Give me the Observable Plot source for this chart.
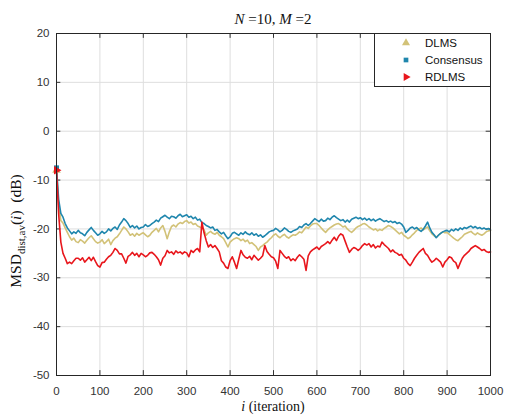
<!DOCTYPE html>
<html>
<head>
<meta charset="utf-8">
<script src="https://cdn.jsdelivr.net/npm/d3@7"></script>
<script src="https://cdn.jsdelivr.net/npm/@observablehq/plot@0.6"></script>
<style>
  html, body { margin: 0; padding: 0; background: #fff; }
  #chart { width: 507px; height: 416px; }
</style>
</head>
<body>
<div id="chart"></div>
<script>
// iterations sampled every 5 steps
const iterations = d3.range(0, 1001, 5);
const xTicks = [0, 100, 200, 300, 400, 500, 600, 700, 800, 900, 1000];
const yTicks = [-50, -40, -30, -20, -10, 0, 10, 20];
const seriesNames = ["DLMS", "Consensus", "RDLMS"];
const seriesColors = ["#d2c278", "#1f86ad", "#e8161c"];

const dlms = [
  -8.0, -15.0, -18.3, -18.8, -19.8, -20.7, -21.6, -22.3, -21.9, -22.6,
  -22.8, -22.2, -22.5, -22.9, -22.3, -21.8, -21.4, -22.0, -22.6, -22.9,
  -22.7, -22.2, -23.0, -22.6, -22.1, -23.2, -22.4, -21.9, -21.6, -21.0,
  -20.3, -19.6, -20.0, -20.6, -21.3, -21.0, -21.5, -20.9, -21.3, -21.0,
  -20.8, -21.2, -21.6, -21.3, -20.7, -20.3, -19.9, -20.6, -19.8, -19.3,
  -20.5, -22.0, -20.6, -19.5, -19.2, -19.6, -19.0, -18.7, -18.9, -18.5,
  -18.3, -18.8, -18.6, -19.1, -18.9, -19.4, -19.6, -19.8, -20.2, -21.3,
  -20.8, -20.5, -20.9, -21.1, -20.7, -21.3, -21.6, -22.0, -22.8, -23.7,
  -22.7, -22.3, -22.0, -21.8, -22.0, -22.4, -22.1, -22.6, -22.3, -23.0,
  -22.8, -23.2, -23.6, -24.4, -23.7, -23.4, -23.0, -22.7, -22.2, -21.8,
  -21.3, -21.0, -21.5, -21.8, -21.4, -21.1, -21.6, -21.9, -21.5, -21.2,
  -21.3, -21.0, -20.6, -20.8, -20.2, -19.6, -19.9, -19.4, -19.0, -18.9,
  -18.9, -19.3, -19.8, -20.3, -20.7, -20.2, -19.8, -19.5, -19.2, -19.0,
  -18.9, -19.2, -19.6, -19.4, -20.0, -20.4, -20.7, -20.3, -19.8, -19.5,
  -19.3, -19.0, -18.9, -19.2, -19.6, -19.9, -20.2, -20.0, -20.4, -20.1,
  -20.3, -19.9, -19.6, -19.3, -19.5, -19.8, -20.2, -20.6, -21.0, -20.7,
  -21.3, -21.6, -22.0, -21.7, -21.2, -20.8, -20.3, -20.0, -19.8, -20.2,
  -19.9, -19.6, -20.4, -21.0, -21.4, -21.7, -21.3, -20.9, -20.6, -20.8,
  -20.7, -21.1, -21.5, -21.9, -22.2, -22.4, -22.0, -21.6, -21.1, -20.9,
  -20.7, -20.5, -20.9, -21.2, -20.8, -21.1, -21.3, -21.0, -20.6, -20.4,
  -20.3
];

const consensus = [
  -7.5, -14.0, -16.8, -17.6, -18.9, -19.8, -20.4, -21.0, -20.6, -20.9,
  -20.3, -20.8, -21.0, -21.4, -20.7, -20.2, -19.7, -20.3, -20.8, -21.3,
  -21.0, -20.5, -20.9, -20.6, -20.0, -20.4, -19.9, -19.6, -20.1, -19.2,
  -18.6, -17.9, -18.3, -18.9, -19.7, -19.3, -19.8, -19.4, -20.0, -19.7,
  -19.6, -19.1, -19.5, -19.3, -18.9, -18.6, -18.2, -18.5, -17.8, -17.5,
  -17.2, -17.6, -17.9, -17.4, -17.5, -17.8, -17.3, -17.0, -17.5, -17.3,
  -17.1, -17.6, -17.4, -17.9, -17.6, -18.2, -18.0, -18.7, -18.9, -19.3,
  -19.5, -19.8, -19.6, -20.3, -20.1, -20.6, -21.0, -20.7, -21.4, -22.0,
  -21.6, -20.9, -20.7, -21.0, -21.3, -20.8, -21.1, -20.6, -21.0, -21.2,
  -20.8, -21.3, -21.0, -21.5, -21.2, -21.7, -21.4, -21.0, -20.6, -20.4,
  -20.3, -19.9, -20.2, -20.6, -20.3, -19.8, -20.1, -20.5, -20.7, -20.4,
  -20.2, -20.0, -19.5, -19.7, -19.2, -18.9, -19.3, -18.9, -18.4, -17.9,
  -18.2, -18.5, -18.0, -18.4, -18.3, -17.8, -18.1, -17.6, -17.3, -17.7,
  -18.0, -18.3, -18.1, -18.6, -18.2, -18.6, -18.0, -17.8, -17.6, -17.9,
  -17.7, -18.1, -17.8, -18.2, -17.9, -18.3, -18.0, -18.4, -18.1, -17.9,
  -18.2, -18.5, -18.3, -18.6, -18.4, -18.7, -18.5, -18.9, -18.7, -19.0,
  -19.6, -20.7, -20.3, -19.8, -19.6, -20.0, -19.7, -20.2, -20.5, -20.1,
  -19.4, -18.6, -19.8, -20.7, -21.2, -21.8, -21.3, -20.9, -20.6, -20.4,
  -20.3, -20.6, -20.1, -20.4, -20.0, -20.3, -19.8, -20.1, -19.7, -19.9,
  -19.6, -19.4, -19.8, -19.5, -19.9, -19.7, -20.0, -19.8, -20.1, -19.9,
  -20.2
];

const rdlms = [
  -8.0, -17.0, -22.7, -25.0, -26.0, -27.1, -26.8, -27.1, -26.5, -26.0,
  -26.0, -26.4, -25.9, -26.8, -26.3, -25.8, -26.5, -25.8, -26.7, -27.5,
  -27.8, -26.9, -26.8, -26.2, -25.7, -25.4, -24.8, -24.0, -24.4, -25.1,
  -25.1, -26.0, -27.0, -25.6, -25.3, -24.8, -25.4, -25.0, -25.7, -25.0,
  -25.3, -25.7, -25.4, -24.9, -24.8, -25.2, -25.7, -26.3, -27.4, -26.0,
  -25.5, -24.4, -24.9, -24.7, -25.2, -24.5, -24.9, -24.7, -25.1, -24.7,
  -24.9, -25.7, -24.4, -24.8, -24.3, -24.0, -24.7, -18.6, -20.8, -22.4,
  -23.7, -23.2, -23.8, -23.4, -24.0, -24.7, -26.5, -27.0, -27.8, -28.1,
  -26.5, -25.7, -26.8, -28.1, -26.2, -24.4, -25.3, -25.8, -26.0, -25.6,
  -26.3, -25.4, -25.9, -26.4, -26.0, -25.5, -23.4, -24.6, -25.2, -25.7,
  -25.9, -26.6, -28.1, -24.4, -25.0, -25.6, -26.0, -25.7, -26.5, -26.1,
  -26.5, -25.8, -25.3, -25.7, -26.2, -28.5, -25.5, -24.7, -24.3, -24.0,
  -23.7, -24.2, -23.6, -23.3, -23.0, -22.6, -23.0, -22.3, -21.7, -22.4,
  -21.5, -21.0, -21.3, -22.5, -23.7, -24.8, -24.2, -23.8, -24.0, -24.4,
  -24.0, -23.4, -23.0, -23.3, -23.0, -23.7, -23.2, -23.9, -23.5, -23.7,
  -22.7, -23.2, -23.6, -24.0, -24.7, -24.3, -24.8, -25.0, -25.4, -25.2,
  -26.0, -26.4, -27.1, -27.5, -26.8, -26.0, -25.4, -24.8, -24.4, -24.0,
  -25.0, -25.4, -26.2, -26.8, -26.5, -26.0, -26.4, -26.8, -27.8, -26.8,
  -26.3, -25.7, -25.9, -26.6, -26.9, -28.1, -27.0, -26.0, -25.4, -25.0,
  -24.6, -24.0, -23.7, -23.4, -23.7, -24.0, -24.4, -24.2, -24.6, -24.8,
  -24.7
];

const seriesValues = [dlms, consensus, rdlms];
const rows = [];
seriesNames.forEach((name, s) => {
  iterations.forEach((it, k) => rows.push({series: name, i: it, v: seriesValues[s][k]}));
});
const firstPoints = seriesNames.map((name, s) => ({series: name, i: iterations[0], v: seriesValues[s][0]}));

const fontSans = "'Liberation Sans', Arial, sans-serif";
const fontSerif = "'Liberation Serif', 'DejaVu Serif', serif";

const chart = Plot.plot({
  width: 507,
  height: 416,
  marginLeft: 56,
  marginRight: 17,
  marginTop: 33,
  marginBottom: 41,
  style: {fontFamily: fontSans, fontSize: "11.5px", color: "#333", background: "#fff"},
  x: {domain: [0, 1000]},
  y: {domain: [-50, 20]},
  color: {domain: seriesNames, range: seriesColors},
  marks: [
    Plot.gridX(xTicks, {stroke: "#dedede", strokeOpacity: 1}),
    Plot.gridY(yTicks, {stroke: "#dedede", strokeOpacity: 1}),
    Plot.ruleX(xTicks, {y1: -50, y2: -49, stroke: "#333"}),
    Plot.ruleX(xTicks, {y1: 20, y2: 19, stroke: "#333"}),
    Plot.ruleY(yTicks, {x1: 0, x2: 10, stroke: "#333"}),
    Plot.ruleY(yTicks, {x1: 1000, x2: 990, stroke: "#333"}),
    Plot.line(rows, {x: "i", y: "v", z: "series", stroke: "series", strokeWidth: 1.6}),
    Plot.dot(firstPoints.filter(d => d.series === "DLMS"), {x: "i", y: "v", symbol: "triangle", fill: seriesColors[0], r: 3.2}),
    Plot.dot(firstPoints.filter(d => d.series === "Consensus"), {x: "i", y: "v", symbol: "square", fill: seriesColors[1], r: 2.8}),
    Plot.dot(firstPoints.filter(d => d.series === "RDLMS"), {x: "i", y: "v", symbol: "triangle", rotate: 90, fill: seriesColors[2], r: 3.2}),
    Plot.frame({stroke: "#262626"}),
    Plot.axisX(xTicks, {tickSize: 0, tickPadding: 11, label: null, tickFormat: d => String(d)}),
    Plot.axisY(yTicks, {tickSize: 0, tickPadding: 7, label: null, tickFormat: d => String(d)})
  ]
});
document.getElementById("chart").appendChild(chart);

const svg = d3.select(chart);

// Title
const title = svg.append("text")
  .attr("x", 273).attr("y", 24)
  .attr("text-anchor", "middle")
  .style("font-family", fontSerif).style("font-size", "15px").attr("fill", "#111");
title.append("tspan").style("font-style", "italic").text("N");
title.append("tspan").text(" =10, ");
title.append("tspan").style("font-style", "italic").text("M");
title.append("tspan").text(" =2");

// X label
const xl = svg.append("text")
  .attr("x", 273).attr("y", 411)
  .attr("text-anchor", "middle")
  .style("font-family", fontSerif).style("font-size", "14px").attr("fill", "#111");
xl.append("tspan").style("font-style", "italic").text("i");
xl.append("tspan").text(" (iteration)");

// Y label
const yl = svg.append("text")
  .attr("transform", "translate(21,231) rotate(-90)")
  .attr("text-anchor", "middle")
  .style("font-family", fontSerif).style("font-size", "15.5px").attr("fill", "#111");
yl.append("tspan").text("MSD");
yl.append("tspan").attr("dy", 4).style("font-size", "11px").text("dist,av");
yl.append("tspan").attr("dy", -4).text("(");
yl.append("tspan").style("font-style", "italic").text("i");
yl.append("tspan").text(")  (dB)");

// Legend
const lg = svg.append("g");
lg.append("rect").attr("x", 374.5).attr("y", 33.5).attr("width", 116).attr("height", 53)
  .attr("fill", "#fff").attr("stroke", "#262626");
const symbols = [d3.symbolTriangle, d3.symbolSquare, d3.symbolTriangle];
const rotations = [0, 0, 90];
const sizes = [28, 22, 28];
seriesNames.forEach((name, s) => {
  const yy = 43 + s * 17;
  lg.append("path")
    .attr("d", d3.symbol(symbols[s], sizes[s])())
    .attr("transform", `translate(406,${yy}) rotate(${rotations[s]})`)
    .attr("fill", seriesColors[s]);
  lg.append("text").attr("x", 425).attr("y", yy).attr("dy", "0.35em")
    .attr("text-anchor", "start")
    .style("font-family", fontSans).style("font-size", "11.5px").attr("fill", "#111")
    .text(name);
});
</script>
</body>
</html>
